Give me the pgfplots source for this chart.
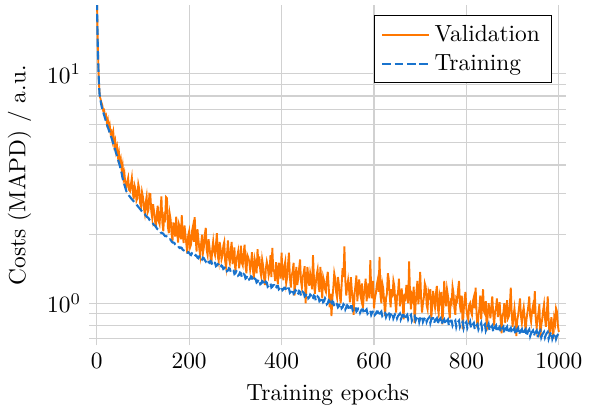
\documentclass[border=0pt]{standalone}
\usepackage{pgfplots}
\pgfplotsset{compat=1.18}
\usepackage{pgfplotstable}

\definecolor{valorange}{RGB}{255,119,0}
\definecolor{trainblue}{RGB}{25,115,205}

% epoch, training cost, validation cost (MAPD)
\pgfplotstableread{
epoch train valid
0 30 30
1 18 18.5
2 14 14.3
3 11.6 11.8
4 10.0 10.1
5 8.9 9.0
6 8.2 8.3
7 7.9 7.9
8 7.7 7.8
10 7.3 7.5
12 7.0 7.3
14 6.8 6.9
16 6.6 6.95
18 6.4 6.5
20 6.2 6.6
22 6.0 6.1
24 5.85 6.3
26 5.7 5.8
28 5.55 6.0
30 5.4 5.5
32 5.25 5.6
34 5.1 5.15
36 4.95 5.5
38 4.8 4.9
40 4.65 5.1
42 4.5 4.6
44 4.38 4.8
46 4.24 4.35
48 4.1 4.55
50 3.97 4.1
52 3.82 4.25
54 3.68 3.8
56 3.5 4.0
58 3.39 3.5
60 3.28 3.67
62 3.18 3.30
64 3.08 3.17
66 3.03 3.38
68 2.98 3.52
70 2.94 3.12
72 2.91 3.08
74 2.87 3.30
76 2.84 3.52
78 2.81 3.05
80 2.78 2.84
82 2.75 3.25
84 2.72 3.13
86 2.69 2.80
88 2.66 2.87
90 2.63 3.30
92 2.60 3.15
94 2.57 2.72
96 2.54 2.64
98 2.51 3.05
100 2.49 2.91
102 2.46 2.60
104 2.45 2.46
106 2.41 2.75
108 2.38 2.92
110 2.37 2.48
112 2.35 2.55
114 2.31 3.00
116 2.29 2.99
118 2.28 2.52
120 2.26 2.36
122 2.22 2.70
124 2.19 2.51
126 2.18 2.30
128 2.16 2.13
130 2.12 2.45
132 2.10 2.66
134 2.09 2.28
136 2.08 2.21
138 2.04 2.55
140 2.02 2.92
142 2.02 2.25
144 2.01 2.06
146 1.98 2.40
148 1.96 2.34
150 1.96 2.90
152 1.95 2.87
154 1.92 2.15
156 1.90 2.02
158 1.90 2.45
160 1.89 2.31
162 1.86 2.00
164 1.84 1.87
166 1.84 2.25
168 1.83 2.11
170 1.80 1.95
172 1.78 2.38
174 1.78 2.05
176 1.78 1.84
178 1.75 2.20
180 1.74 2.12
182 1.75 1.90
184 1.74 2.42
186 1.71 2.00
188 1.70 1.83
190 1.71 2.18
192 1.70 1.99
194 1.67 1.80
196 1.66 1.65
198 1.67 1.98
200 1.66 2.06
202 1.63 1.75
204 1.62 1.80
206 1.65 2.05
208 1.64 2.15
210 1.61 1.85
212 1.60 2.37
214 1.62 1.95
216 1.61 1.68
218 1.58 2.10
220 1.57 1.91
222 1.60 1.72
224 1.59 1.61
226 1.54 1.82
228 1.55 1.99
230 1.58 1.66
232 1.57 1.76
234 1.54 2.00
236 1.52 2.13
238 1.55 1.70
240 1.54 1.62
242 1.51 1.90
244 1.50 1.76
246 1.53 1.60
248 1.52 1.48
250 1.47 1.72
252 1.48 1.86
254 1.51 1.68
256 1.50 1.62
258 1.45 1.80
260 1.46 2.02
262 1.48 1.60
264 1.47 1.52
266 1.43 1.85
268 1.44 1.73
270 1.46 1.55
272 1.45 1.61
274 1.41 1.78
276 1.42 1.85
278 1.44 1.52
280 1.43 1.43
282 1.38 1.65
284 1.39 1.88
286 1.42 1.58
288 1.41 1.50
290 1.37 1.70
292 1.38 1.85
294 1.40 1.48
296 1.39 1.57
298 1.34 1.75
300 1.35 1.36
302 1.38 1.55
304 1.37 1.60
306 1.32 1.68
308 1.33 1.42
310 1.36 1.52
312 1.35 1.78
314 1.30 1.50
316 1.31 1.46
318 1.34 1.65
320 1.33 1.80
322 1.28 1.45
324 1.29 1.35
326 1.32 1.62
328 1.31 1.58
330 1.27 1.52
332 1.28 1.40
334 1.31 1.50
336 1.30 1.67
338 1.25 1.40
340 1.26 1.28
342 1.28 1.55
344 1.27 1.48
346 1.23 1.35
348 1.24 1.72
350 1.27 1.45
352 1.26 1.60
354 1.21 1.38
356 1.22 1.31
358 1.25 1.55
360 1.24 1.46
362 1.20 1.30
364 1.21 1.20
366 1.24 1.42
368 1.23 1.52
370 1.18 1.45
372 1.19 1.32
374 1.22 1.38
376 1.22 1.62
378 1.17 1.30
380 1.18 1.74
382 1.20 1.40
384 1.20 1.37
386 1.16 1.25
388 1.17 1.51
390 1.19 1.35
392 1.19 1.21
394 1.15 1.50
396 1.16 1.41
398 1.18 1.28
400 1.18 1.66
402 1.14 1.35
404 1.15 1.26
406 1.17 1.45
408 1.17 1.52
410 1.13 1.22
412 1.14 1.29
414 1.16 1.48
416 1.16 1.66
418 1.11 1.30
420 1.12 1.17
422 1.15 1.32
424 1.14 1.38
426 1.10 1.50
428 1.11 1.08
430 1.14 1.25
432 1.13 1.44
434 1.09 1.20
436 1.10 1.28
438 1.13 1.42
440 1.12 1.55
442 1.08 1.25
444 1.09 1.17
446 1.12 1.30
448 1.11 1.36
450 1.07 1.45
452 1.08 1.00
454 1.10 1.20
456 1.10 1.44
458 1.05 1.28
460 1.06 1.19
462 1.09 1.35
464 1.08 1.28
466 1.04 1.15
468 1.05 1.62
470 1.08 1.30
472 1.07 1.10
474 1.03 1.22
476 1.04 1.33
478 1.07 1.40
480 1.06 1.19
482 1.02 1.12
484 1.03 1.44
486 1.06 1.25
488 1.05 1.05
490 1.01 1.30
492 1.02 1.25
494 1.05 1.15
496 1.03 1.12
498 0.99 1.28
500 1.00 1.37
502 1.03 1.18
504 1.02 0.96
506 0.98 1.10
508 0.99 0.88
510 1.02 1.05
512 1.01 1.17
514 0.97 1.35
516 0.98 1.28
518 1.00 1.12
520 0.99 1.06
522 0.96 1.30
524 0.97 1.21
526 1.00 1.08
528 0.99 1.00
530 0.95 1.20
532 0.96 1.42
534 0.99 1.30
536 0.98 1.77
538 0.94 1.25
540 0.96 1.08
542 0.98 1.18
544 0.97 1.26
546 0.93 1.15
548 0.95 1.01
550 0.97 1.30
552 0.97 1.14
554 0.93 1.05
556 0.94 0.89
558 0.96 1.10
560 0.96 1.20
562 0.92 1.32
564 0.93 1.02
566 0.95 1.15
568 0.95 1.27
570 0.91 1.10
572 0.93 1.05
574 0.94 1.22
576 0.94 0.95
578 0.90 1.08
580 0.92 1.16
582 0.93 1.28
584 0.94 1.02
586 0.90 1.12
588 0.91 1.22
590 0.93 1.05
592 0.93 1.54
594 0.89 1.15
596 0.91 1.05
598 0.92 1.25
600 0.93 0.95
602 0.89 1.05
604 0.90 1.10
606 0.92 1.20
608 0.92 1.26
610 0.88 1.12
612 0.90 1.59
614 0.91 1.08
616 0.92 1.00
618 0.88 1.22
620 0.89 1.16
622 0.91 1.02
624 0.91 0.88
626 0.87 1.05
628 0.89 1.10
630 0.90 1.35
632 0.92 1.27
634 0.87 1.08
636 0.89 0.96
638 0.90 1.15
640 0.91 1.06
642 0.86 1.25
644 0.88 1.19
646 0.90 1.02
648 0.90 0.91
650 0.86 1.08
652 0.88 1.11
654 0.89 1.28
656 0.90 0.97
658 0.85 1.05
660 0.87 1.16
662 0.89 1.00
664 0.89 0.85
666 0.85 1.10
668 0.87 1.02
670 0.88 1.20
672 0.89 1.12
674 0.85 1.00
676 0.87 1.52
678 0.88 1.10
680 0.89 0.94
682 0.84 1.08
684 0.86 1.04
686 0.87 1.18
688 0.88 0.82
690 0.84 0.98
692 0.86 1.13
694 0.87 1.25
696 0.88 0.99
698 0.83 1.10
700 0.86 1.37
702 0.87 1.05
704 0.88 0.91
706 0.83 1.00
708 0.85 1.06
710 0.86 1.22
712 0.87 1.18
714 0.83 0.98
716 0.85 0.94
718 0.86 1.12
720 0.87 1.08
722 0.82 1.15
724 0.85 0.85
726 0.86 0.98
728 0.86 1.13
730 0.82 1.02
732 0.84 0.96
734 0.85 1.10
736 0.86 1.19
738 0.81 0.95
740 0.84 0.90
742 0.85 1.08
744 0.86 1.03
746 0.81 1.12
748 0.83 0.81
750 0.84 0.95
752 0.85 1.25
754 0.81 1.05
756 0.83 0.97
758 0.84 1.15
760 0.85 1.08
762 0.80 0.95
764 0.83 0.86
766 0.84 1.02
768 0.84 1.00
770 0.80 1.18
772 0.82 1.11
774 0.83 0.95
776 0.84 0.89
778 0.79 1.05
780 0.82 1.03
782 0.83 1.15
784 0.84 1.25
786 0.79 0.98
788 0.81 0.91
790 0.82 1.08
792 0.83 0.77
794 0.78 0.92
796 0.81 1.04
798 0.82 1.12
800 0.83 0.94
802 0.78 0.88
804 0.80 0.85
806 0.81 0.98
808 0.83 1.00
810 0.78 0.92
812 0.80 0.89
814 0.81 1.02
816 0.82 1.06
818 0.77 0.95
820 0.79 1.17
822 0.80 0.90
824 0.81 0.78
826 0.77 0.88
828 0.79 0.95
830 0.80 1.08
832 0.82 0.85
834 0.77 0.98
836 0.79 1.15
838 0.80 0.92
840 0.81 0.90
842 0.76 1.02
844 0.78 0.76
846 0.79 0.88
848 0.81 1.00
850 0.76 0.93
852 0.78 0.86
854 0.79 0.97
856 0.80 1.07
858 0.75 0.90
860 0.77 0.80
862 0.79 0.92
864 0.80 0.95
866 0.75 1.05
868 0.77 0.87
870 0.78 0.94
872 0.79 1.01
874 0.75 0.85
876 0.77 0.74
878 0.78 0.88
880 0.79 0.91
882 0.74 1.00
884 0.76 0.82
886 0.78 0.92
888 0.79 1.03
890 0.74 0.86
892 0.76 0.88
894 0.77 0.98
896 0.78 1.17
898 0.74 0.90
900 0.76 0.79
902 0.77 0.88
904 0.78 0.95
906 0.73 0.85
908 0.75 0.72
910 0.77 0.84
912 0.78 0.89
914 0.73 0.96
916 0.75 1.05
918 0.76 0.88
920 0.77 0.82
922 0.73 0.91
924 0.75 0.96
926 0.76 0.86
928 0.77 0.75
930 0.72 0.85
932 0.74 0.91
934 0.76 0.97
936 0.77 1.07
938 0.72 0.88
940 0.74 0.83
942 0.75 0.92
944 0.76 0.97
946 0.72 0.90
948 0.74 1.13
950 0.75 0.86
952 0.76 0.78
954 0.71 0.85
956 0.73 0.91
958 0.75 0.99
960 0.76 0.71
962 0.71 0.80
964 0.73 0.85
966 0.74 0.93
968 0.75 0.99
970 0.71 0.86
972 0.73 0.79
974 0.74 0.90
976 0.75 1.07
978 0.70 0.84
980 0.72 0.72
982 0.74 0.80
984 0.75 0.87
986 0.70 0.78
988 0.72 0.70
990 0.73 0.86
992 0.74 0.82
994 0.70 0.95
996 0.72 0.92
998 0.73 0.80
1000 0.74 0.75
}\costs

\begin{document}
\begin{tikzpicture}
\begin{axis}[
  scale only axis,
  width=204pt, height=145.5pt,
  ymode=log,
  xmin=-16, xmax=1016,
  ymin=0.656, ymax=19.9,
  xtick={0,200,...,1000},
  xticklabel style={/pgf/number format/set thousands separator={}},
  ytick={1,10},
  minor ytick={0.7,0.8,0.9,2,3,4,5,6,7,8,9},
  minor xtick={},
  grid=both,
  major grid style={gray!36, line width=0.5pt},
  minor grid style={gray!36, line width=0.5pt},
  axis line style={draw=none},
  tick style={draw=none},
  xlabel={Training epochs},
  ylabel={Costs (MAPD) / a.u.},
  legend pos=north east,
  legend style={draw=black, fill=white},
  legend cell align=left,
  legend image code/.code={
    \draw[mark repeat=2, mark phase=2] plot coordinates {(0cm,0cm) (0.35cm,0cm) (0.7cm,0cm)};
  },
]
\addplot[valorange, line width=0.8pt] table[x=epoch, y=valid] {\costs};
\addlegendentry{Validation}
\addplot[trainblue, line width=0.9pt, dash pattern=on 3.7pt off 1.6pt] table[x=epoch, y=train] {\costs};
\addlegendentry{Training}
\end{axis}
% a little white space above the plot
\path ([yshift=2.2pt]current axis.north);
\end{tikzpicture}
\end{document}
